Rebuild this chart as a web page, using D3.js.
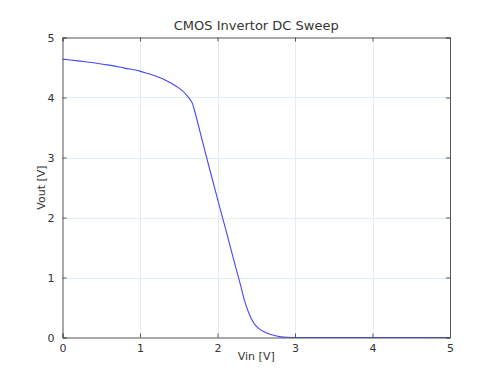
<!DOCTYPE html>
<html>
<head>
<meta charset="utf-8">
<script src="https://cdn.jsdelivr.net/npm/d3@7"></script>
<style>
  body { margin: 0; background: #fff; }
  text { font-family: "DejaVu Sans", sans-serif; fill: #333; }
</style>
</head>
<body>
<svg id="chart"></svg>
<script>
// Sweep data
const vin = [0, 0.2, 0.4, 0.6, 0.8, 1.0, 1.1, 1.2, 1.3, 1.4, 1.5, 1.55, 1.6, 1.65, 1.68, 1.7,
  1.8, 1.9, 2.0, 2.1, 2.2, 2.3, 2.35, 2.4, 2.45, 2.5, 2.55, 2.6, 2.7, 2.8, 2.9, 3.0,
  3.5, 4.0, 4.5, 5.0];
const vout = [4.64, 4.61, 4.58, 4.54, 4.49, 4.44, 4.40, 4.36, 4.31, 4.24, 4.16, 4.11, 4.04, 3.96, 3.89, 3.80,
  3.30, 2.80, 2.31, 1.83, 1.34, 0.86, 0.61, 0.42, 0.28, 0.19, 0.135, 0.095, 0.045, 0.015, 0.003, 0,
  0, 0, 0, 0];
const xTicks = [0, 1, 2, 3, 4, 5];
const yTicks = [0, 1, 2, 3, 4, 5];

const width = 500, height = 375;
const margin = { top: 37.5, right: 50, bottom: 37.5, left: 62.5 };

const svg = d3.select("#chart").attr("width", width).attr("height", height);
const g = svg.append("g");

let x = d3.scaleLinear().domain([0, 5]).range([margin.left, width - margin.right]);
let y = d3.scaleLinear().domain([0, 5]).range([height - margin.bottom, margin.top]);

// grid
g.selectAll(".gx").data(xTicks.slice(1, -1)).join("line")
  .attr("x1", d => Math.round(x(d)) + 0.5).attr("x2", d => Math.round(x(d)) + 0.5)
  .attr("y1", y(5)).attr("y2", y(0))
  .style("stroke", "#e2eef5").style("stroke-width", 1);
g.selectAll(".gy").data(yTicks.slice(1, -1)).join("line")
  .attr("y1", d => Math.round(y(d)) + 0.5).attr("y2", d => Math.round(y(d)) + 0.5)
  .attr("x1", x(0)).attr("x2", x(5))
  .style("stroke", "#e2eef5").style("stroke-width", 1);

// curve
const pts = vin.map((v, i) => [v, vout[i]]);
g.append("path")
  .datum(pts)
  .attr("d", d3.line().x(d => x(d[0])).y(d => y(d[1])).curve(d3.curveMonotoneX))
  .style("fill", "none")
  .style("stroke", "#4646ff")
  .style("stroke-width", 1.1);

// axes with inward ticks on all sides
const tickSize = -4;
svg.append("g").attr("transform", `translate(0,${y(0)})`)
  .call(d3.axisBottom(x).tickValues(xTicks).tickSize(tickSize).tickPadding(7).tickFormat(d3.format("d")));
svg.append("g").attr("transform", `translate(0,${y(5)})`)
  .call(d3.axisTop(x).tickValues(xTicks).tickSize(tickSize).tickFormat(""));
svg.append("g").attr("transform", `translate(${x(0)},0)`)
  .call(d3.axisLeft(y).tickValues(yTicks).tickSize(tickSize).tickPadding(8).tickFormat(d3.format("d")));
svg.append("g").attr("transform", `translate(${x(5)},0)`)
  .call(d3.axisRight(y).tickValues(yTicks).tickSize(tickSize).tickFormat(""));

svg.selectAll(".domain").style("stroke", "#555");
svg.selectAll(".tick line").style("stroke", "#555");
svg.selectAll(".tick text").style("font-size", "11px").style("fill", "#333")
  .style("font-family", "DejaVu Sans, sans-serif");

// title and labels
svg.append("text")
  .attr("x", (x(0) + x(5)) / 2).attr("y", 30)
  .attr("text-anchor", "middle")
  .style("font-size", "13px")
  .text("CMOS Invertor DC Sweep");

svg.append("text")
  .attr("x", (x(0) + x(5)) / 2).attr("y", 360)
  .attr("text-anchor", "middle")
  .style("font-size", "11px")
  .text("Vin [V]");

svg.append("text")
  .attr("transform", `translate(45,${(y(0) + y(5)) / 2}) rotate(-90)`)
  .attr("text-anchor", "middle")
  .style("font-size", "11px")
  .text("Vout [V]");
</script>
</body>
</html>
